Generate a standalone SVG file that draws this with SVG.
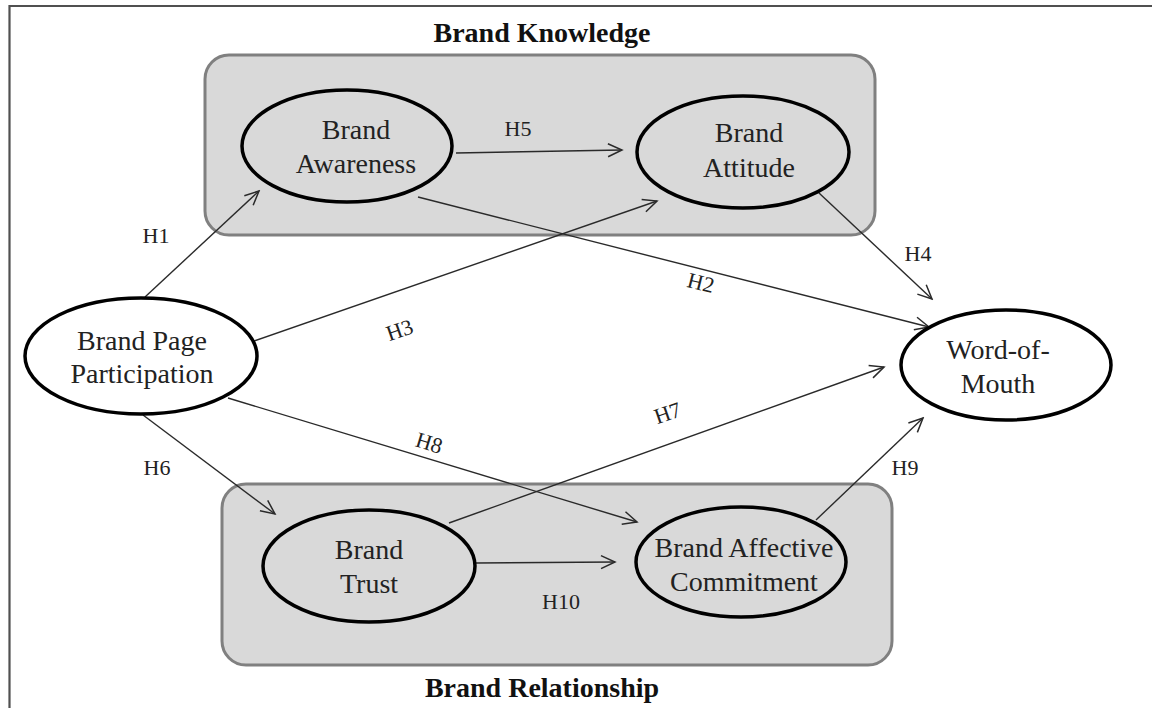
<svg xmlns="http://www.w3.org/2000/svg" width="1152" height="708" viewBox="0 0 1152 708">
<style>
.frame{stroke:#505050;stroke-width:2.2;fill:none}
.box{fill:#d9d9d9;stroke:#808080;stroke-width:3}
.node{fill:none;stroke:#000;stroke-width:3.5}
.nodew{fill:#fff;stroke:#000;stroke-width:3.5}
.lbl{font-family:"Liberation Serif","Times New Roman",serif;font-size:28px;fill:#222;text-anchor:middle}
.title{font-family:"Liberation Serif","Times New Roman",serif;font-size:28px;font-weight:bold;fill:#111;text-anchor:middle}
.h{font-family:"Liberation Serif","Times New Roman",serif;font-size:22px;fill:#222;text-anchor:middle}
.c{stroke:#2a2a2a;stroke-width:1.4;fill:none;marker-end:url(#arr)}
</style>
<defs>
<marker id="arr" markerUnits="userSpaceOnUse" markerWidth="18" markerHeight="16" refX="16" refY="8" orient="auto" viewBox="0 0 18 16">
<path d="M2,1.5 L16,8 L2,14.5" fill="none" stroke="#2a2a2a" stroke-width="1.5"/>
</marker>
</defs>
<rect width="1152" height="708" fill="#fff"/>
<path class="frame" d="M9.5,708 V6 H1152"/>

<g id="brand-knowledge">
<rect class="box" x="205" y="55" width="670" height="180" rx="24"/>
<text class="title" x="542" y="42">Brand Knowledge</text>
</g>
<g id="brand-relationship">
<rect class="box" x="222" y="484" width="670" height="181" rx="24"/>
<text class="title" x="542" y="697">Brand Relationship</text>
</g>

<g id="connectors">
<line class="c" x1="145" y1="297" x2="259" y2="191"/>
<line class="c" x1="456" y1="153" x2="622" y2="150"/>
<line class="c" x1="254" y1="341" x2="657" y2="201"/>
<line class="c" x1="418" y1="197" x2="929" y2="327"/>
<line class="c" x1="819" y1="193" x2="932" y2="299"/>
<line class="c" x1="143" y1="415" x2="275" y2="514"/>
<line class="c" x1="228" y1="398" x2="637" y2="522"/>
<line class="c" x1="449" y1="523" x2="884" y2="367"/>
<line class="c" x1="816" y1="520" x2="923" y2="418"/>
<line class="c" x1="476" y1="563" x2="615" y2="562"/>
<text class="h" x="156" y="243">H1</text>
<text class="h" x="518" y="136">H5</text>
<text class="h" transform="translate(402,337) rotate(-19)">H3</text>
<text class="h" transform="translate(699,290) rotate(14)">H2</text>
<text class="h" x="918" y="261">H4</text>
<text class="h" x="157" y="475">H6</text>
<text class="h" transform="translate(427,450) rotate(17)">H8</text>
<text class="h" transform="translate(670,420) rotate(-19)">H7</text>
<text class="h" x="905" y="475">H9</text>
<text class="h" x="561" y="609">H10</text>
</g>

<g id="brand-awareness">
<ellipse class="node" cx="347" cy="146" rx="105" ry="56"/>
<text class="lbl" x="356" y="139">Brand</text>
<text class="lbl" x="356" y="173">Awareness</text>
</g>
<g id="brand-attitude">
<ellipse class="node" cx="743" cy="152" rx="106" ry="56"/>
<text class="lbl" x="749" y="142">Brand</text>
<text class="lbl" x="749" y="177">Attitude</text>
</g>
<g id="brand-page-participation">
<ellipse class="nodew" cx="141" cy="356" rx="116" ry="58"/>
<text class="lbl" x="142" y="350">Brand Page</text>
<text class="lbl" x="142" y="383">Participation</text>
</g>
<g id="word-of-mouth">
<ellipse class="nodew" cx="1006" cy="365" rx="105" ry="55"/>
<text class="lbl" x="998" y="359">Word-of-</text>
<text class="lbl" x="998" y="393">Mouth</text>
</g>
<g id="brand-trust">
<ellipse class="node" cx="369" cy="566" rx="106" ry="56"/>
<text class="lbl" x="369" y="559">Brand</text>
<text class="lbl" x="369" y="593">Trust</text>
</g>
<g id="brand-affective-commitment">
<ellipse class="node" cx="741" cy="562" rx="105" ry="55"/>
<text class="lbl" x="744" y="557">Brand Affective</text>
<text class="lbl" x="744" y="591">Commitment</text>
</g>
</svg>
